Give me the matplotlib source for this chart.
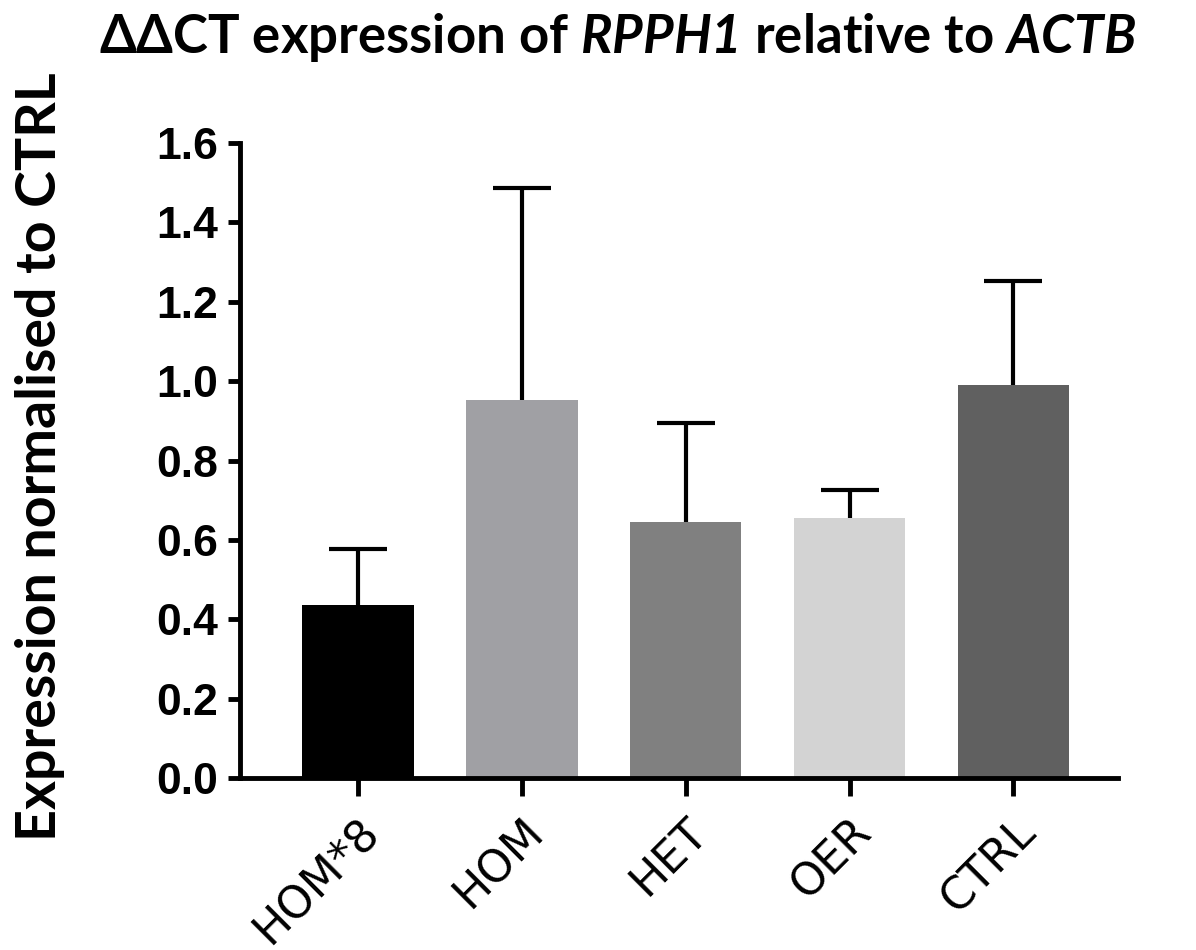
import numpy as np
import matplotlib
matplotlib.use("Agg")
import matplotlib.pyplot as plt

groups = ["HOM*8", "HOM", "HET", "OER", "CTRL"]
means = [0.436, 0.952, 0.646, 0.654, 0.990]
upper_err = [0.141, 0.535, 0.249, 0.072, 0.262]
colors = ["#000000", "#a0a0a4", "#808080", "#d3d3d3", "#606060"]

# gene names in bold italic, digits included
plt.rcParams["mathtext.fontset"] = "custom"
plt.rcParams["mathtext.rm"] = "Lato:bold:italic"
plt.rcParams["mathtext.it"] = "Lato:bold:italic"
plt.rcParams["mathtext.bf"] = "Lato:bold:italic"

fig = plt.figure(figsize=(11.96, 9.5), dpi=100)
ax = fig.add_axes([0.2007, 0.181, 0.7343, 0.6685])

x = np.arange(len(groups))
ax.bar(x, means, width=0.68, color=colors, zorder=2)
eb = ax.errorbar(x, means, yerr=[np.zeros(len(means)), upper_err], fmt="none",
                 ecolor="black", elinewidth=3, capsize=21, capthick=3, zorder=1)
# only the upper cap is drawn
eb[1][0].set_visible(False)

ax.set_ylim(0, 1.6)
ax.set_xlim(-0.72, 4.64)
ticks = np.arange(0, 1.61, 0.2)
ax.set_yticks(ticks)
ax.set_yticklabels([f"{v:.1f}" for v in ticks],
                   fontfamily="Liberation Sans", fontweight="bold", fontsize=32)
ax.set_xticks(x)
ax.set_xticklabels(groups, rotation=45, ha="right", rotation_mode="anchor",
                   fontfamily="DejaVu Sans", fontsize=32)

for side in ["top", "right"]:
    ax.spines[side].set_visible(False)
for side in ["left", "bottom"]:
    ax.spines[side].set_linewidth(3.5)
ax.tick_params(axis="y", length=9, width=3.5, pad=7)
ax.tick_params(axis="x", length=13, width=3.5, pad=10)

fig.text(40 / 1196, 1 - 457 / 950, "Expression normalised to CTRL", rotation=90,
         ha="center", va="center", fontfamily="Lato", fontweight="bold", fontsize=40)
fig.text(0.516, 0.96, r"ΔΔCT expression of $RPPH1$ relative to $ACTB$",
         ha="center", va="center", fontfamily="Lato", fontweight="bold", fontsize=38)

fig.savefig("out.png", dpi=100)
